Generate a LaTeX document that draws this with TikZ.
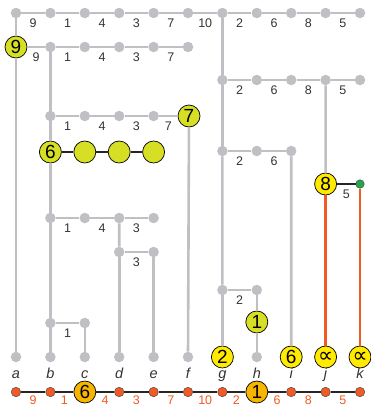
\documentclass[tikz,border=0pt]{standalone}
\usepackage{fontspec}
\setmainfont{Liberation Sans}
\newfontfamily\symfont{DejaVu Sans}
\definecolor{lgray}{HTML}{C0C0C4}
\definecolor{limey}{HTML}{D6DF23}
\definecolor{yel}{HTML}{FFEA00}
\definecolor{gold}{HTML}{F8B500}
\definecolor{orng}{HTML}{F15A24}
\definecolor{grn}{HTML}{1FA84A}
\definecolor{txt}{HTML}{333333}
\begin{document}
\begin{tikzpicture}[x=1pt,y=-1pt,
  gdot/.style={circle,fill=lgray,inner sep=0pt,minimum size=10.5pt},
  circ/.style={circle,draw=black,line width=0.7pt,inner sep=0pt,minimum size=22pt,font=\fontsize{19}{19}\selectfont},
  lcirc/.style={circ,fill=limey},
  ycirc/.style={circ,fill=yel},
  gcirc/.style={circ,fill=gold},
  odot/.style={circle,fill=orng,draw=black!70,line width=0.5pt,inner sep=0pt,minimum size=9.5pt},
  gndot/.style={circle,fill=grn,draw=black!70,line width=0.5pt,inner sep=0pt,minimum size=8.5pt},
  gline/.style={draw=lgray,line width=2.6pt},
  bline/.style={draw=black!85,line width=1.6pt},
  oline/.style={draw=orng,line width=2.6pt},
  lbl/.style={midway,yshift=-10pt,text=txt,font=\fontsize{12.5}{13}\selectfont,inner sep=1pt},
  olbl/.style={midway,yshift=-8.5pt,text=orng,font=\fontsize{12.5}{13}\selectfont,inner sep=1pt},
  leaf/.style={text=txt,font=\fontsize{14.5}{15}\selectfont\itshape,inner sep=1pt}]
\useasboundingbox (0,0) rectangle (370,407);
% row A
\foreach \i in {0,...,10} \node[gdot] (A\i) at ({16+34.4*\i},13) {};
\foreach \l [count=\k] in {9,1,4,3,7,10,2,6,8,5} {
  \pgfmathtruncatemacro\i{\k-1}
  \draw[gline] (A\i) -- node[lbl]{\l} (A\k);
}
% row B
\node[lcirc] (B0) at (16,47) {9};
\foreach \i in {1,...,5} \node[gdot] (B\i) at ({16+34.4*\i},47) {};
\foreach \l [count=\k] in {9,1,4,3,7} {
  \pgfmathtruncatemacro\i{\k-1}
  \draw[gline] (B\i) -- node[lbl]{\l} (B\k);
}
% row C
\foreach \i in {6,...,10} \node[gdot] (C\i) at ({16+34.4*\i},80) {};
\foreach \l [count=\k from 7] in {2,6,8,5} {
  \pgfmathtruncatemacro\i{\k-1}
  \draw[gline] (C\i) -- node[lbl]{\l} (C\k);
}
% row D
\foreach \i in {1,...,4} \node[gdot] (D\i) at ({16+34.4*\i},116) {};
\node[lcirc] (D5) at (189,116) {7};
\foreach \l [count=\k from 2] in {1,4,3,7} {
  \pgfmathtruncatemacro\i{\k-1}
  \draw[gline] (D\i) -- node[lbl]{\l} (D\k);
}
% row E
\node[lcirc] (E1) at (50.4,152) {6};
\foreach \i in {2,3,4} \node[lcirc] (E\i) at ({16+34.4*\i},152) {};
\draw[bline] (E1) -- (E2) (E2) -- (E3) (E3) -- (E4);
% row F
\foreach \i in {1,...,4} \node[gdot] (F\i) at ({16+34.4*\i},218) {};
\foreach \l [count=\k from 2] in {1,4,3} {
  \pgfmathtruncatemacro\i{\k-1}
  \draw[gline] (F\i) -- node[lbl]{\l} (F\k);
}
% row G
\node[gdot] (G3) at (119.2,252) {};
\node[gdot] (G4) at (153.6,252) {};
\draw[gline] (G3) -- node[lbl]{3} (G4);
% row H
\node[gdot] (H1) at (50.4,323) {};
\node[gdot] (H2) at (84.8,323) {};
\draw[gline] (H1) -- node[lbl]{1} (H2);
% row I
\foreach \i in {6,7,8} \node[gdot] (I\i) at ({16+34.4*\i},151) {};
\draw[gline] (I6) -- node[lbl]{2} (I7);
\draw[gline] (I7) -- node[lbl]{6} (I8);
% row J
\node[gdot] (J6) at (222.4,290) {};
\node[gdot] (J7) at (256.8,290) {};
\draw[gline] (J6) -- node[lbl]{2} (J7);
\node[lcirc] (L7) at (256.8,322) {1};
% row K
\node[ycirc] (K9) at (325.6,184) {8};
\node[gndot] (K10) at (360,184) {};
\draw[bline] (K9) -- node[lbl]{5} (K10);
% leaves
\node[gdot] (a) at (16,357) {};
\node[gdot] (b) at (50.4,357) {};
\node[gdot] (c) at (84.8,357) {};
\node[gdot] (d) at (119.2,357) {};
\node[gdot] (e) at (153.6,357) {};
\node[gdot] (f) at (188,357) {};
\node[ycirc] (g) at (222.4,357) {2};
\node[gdot] (h) at (256.8,357) {};
\node[ycirc] (i) at (291.2,357) {6};
\node[ycirc] (j) at (325.6,357) {{\symfont\fontsize{21}{21}\selectfont ∝}};
\node[ycirc] (k) at (360,357) {{\symfont\fontsize{21}{21}\selectfont ∝}};
\foreach \n/\t [count=\q from 0] in {la/a,lb/b,lc/c,ld/d,le/e,lf/f,lg/g,lh/h,li/i,lj/j,lk/k}
  \node[leaf,anchor=base] (\n) at ({16+34.4*\q},378) {\t};
% verticals
\draw[gline] (A0) -- (B0);
\draw[gline] (B0) -- (a);
\draw[gline] (A6) -- (C6);
\draw[gline] (B1) -- (D1);
\draw[gline] (D1) -- (E1);
\draw[gline] (E1) -- (F1);
\draw[gline] (F3) -- (G3);
\draw[gline] (G3) -- (d);
\draw[gline] (G4) -- (e);
\draw[gline] (F1) -- (H1);
\draw[gline] (H1) -- (b);
\draw[gline] (H2) -- (c);
\draw[gline] (D5) -- (f);
\draw[gline] (C6) -- (I6);
\draw[gline] (I8) -- (i);
\draw[gline] (I6) -- (J6);
\draw[gline] (J6) -- (g);
\draw[gline] (J7) -- (L7);
\draw[gline] (L7) -- (h);
\draw[gline] (C9) -- (K9);
\draw[oline] (K9) -- (j);
\draw[oline] (K10) -- (k);
% bottom row
\foreach \i in {0,1,3,4,5,6,8,9,10} \node[odot] (Z\i) at ({16+34.4*\i},392) {};
\node[gcirc] (Z2) at (84.8,392) {6};
\node[gcirc] (Z7) at (256.8,392) {1};
\foreach \l [count=\k] in {9,1,4,3,7,10,2,6,8,5} {
  \pgfmathtruncatemacro\i{\k-1}
  \draw[bline] (Z\i) -- node[olbl]{\l} (Z\k);
}
\end{tikzpicture}
\end{document}
